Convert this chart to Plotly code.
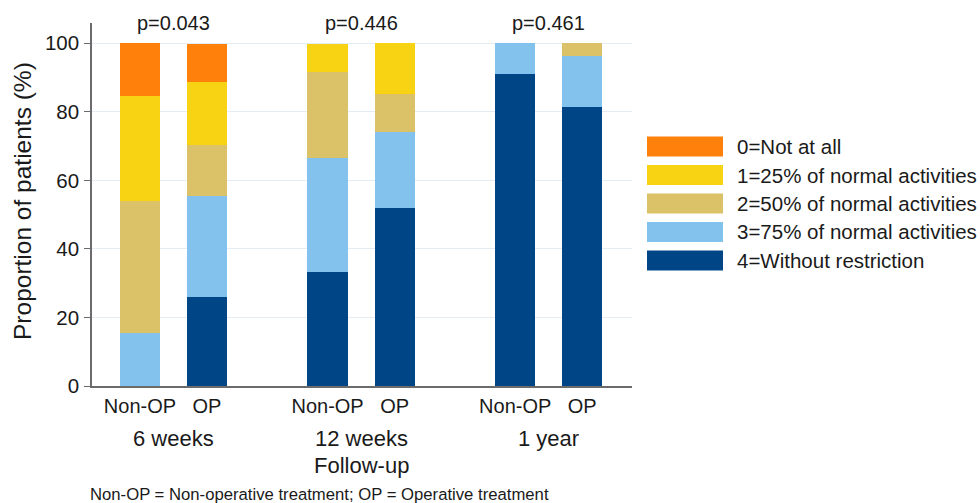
import plotly.graph_objects as go

# Follow-up time points and treatment arms
groups = ["6 weeks", "12 weeks", "1 year"]
arms = ["Non-OP", "OP"]
p_values = ["p=0.043", "p=0.446", "p=0.461"]

# Activity-level categories (stacked bottom to top) and their colours
categories = [
    "4=Without restriction",
    "3=75% of normal activities",
    "2=50% of normal activities",
    "1=25% of normal activities",
    "0=Not at all",
]
colors = ["#004586", "#84C2EE", "#DBC167", "#F8D313", "#FF800A"]

# Percent of patients per bar: 6wk Non-OP, 6wk OP, 12wk Non-OP, 12wk OP, 1yr Non-OP, 1yr OP
pct_4 = [0.0, 25.9, 33.3, 51.9, 90.9, 81.5]
pct_3 = [15.4, 29.6, 33.3, 22.2, 9.1, 14.8]
pct_2 = [38.5, 14.8, 25.0, 11.1, 0.0, 3.7]
pct_1 = [30.8, 18.5, 8.3, 14.8, 0.0, 0.0]
pct_0 = [15.4, 11.1, 0.0, 0.0, 0.0, 0.0]
series = [pct_4, pct_3, pct_2, pct_1, pct_0]

y_ticks = [0, 20, 40, 60, 80, 100]

FONT = "Arial, Liberation Sans, sans-serif"
TXT = "#1a1a1a"

# Bar positions: two arms per group, groups spaced apart
GROUP_STEP = 2.8
x_pos = []
x_text = []
for g in range(len(groups)):
    for a, arm in enumerate(arms):
        x_pos.append(g * GROUP_STEP + a)
        x_text.append(arm)
group_centers = [g * GROUP_STEP + 0.5 for g in range(len(groups))]

W, H = 980, 503
L, R, T, B = 92, 348, 23, 117
plot_h = H - T - B


def py(pix):
    """Convert a pixel row to paper y."""
    return (H - B - pix) / plot_h


def px(pix):
    """Convert a pixel column to paper x."""
    return (pix - L) / (W - L - R)


fig = go.Figure()
for name, vals, col in zip(categories, series, colors):
    fig.add_trace(go.Bar(
        x=x_pos, y=vals, name=name, width=0.6,
        marker=dict(color=col, line=dict(width=0)),
        showlegend=False,
    ))

annotations = []
for xc, p in zip(group_centers, p_values):
    annotations.append(dict(x=xc, xref="x", y=1, yref="paper", yanchor="middle",
                            text=p, showarrow=False, font=dict(size=20, color=TXT)))
for xc, g in zip(group_centers, groups):
    annotations.append(dict(x=xc, xref="x", y=py(438), yref="paper", yanchor="middle",
                            text=g, showarrow=False, font=dict(size=22, color=TXT)))
annotations.append(dict(x=group_centers[1], xref="x", y=py(465), yref="paper",
                        yanchor="middle", text="Follow-up", showarrow=False,
                        font=dict(size=22, color=TXT)))
annotations.append(dict(x=px(88), xref="paper", y=py(494.5), yref="paper",
                        xanchor="left", yanchor="middle",
                        text="Non-OP = Non-operative treatment; OP = Operative treatment",
                        showarrow=False, font=dict(size=16.7, color=TXT)))
annotations.append(dict(x=px(22.5), xref="paper", y=py(201.5), yref="paper",
                        xanchor="center", yanchor="middle", textangle=-90,
                        text="Proportion of patients (%)", showarrow=False,
                        font=dict(size=24.5, color=TXT)))

# Legend drawn as wide colour boxes with labels, top entry = category 0
shapes = []
row_top = 136.5
row_step = 28.5
for i, (name, col) in enumerate(zip(categories[::-1], colors[::-1])):
    top = row_top + i * row_step
    shapes.append(dict(type="rect", xref="paper", yref="paper",
                       x0=px(647), x1=px(723), y0=py(top + 20), y1=py(top),
                       fillcolor=col, line=dict(width=0)))
    annotations.append(dict(x=px(735), xref="paper", y=py(top + 10), yref="paper",
                            xanchor="left", yanchor="middle", text=name,
                            showarrow=False, font=dict(size=20.5, color=TXT)))

fig.update_layout(
    width=W, height=H,
    margin=dict(l=L, r=R, t=T, b=B, pad=0),
    barmode="stack",
    plot_bgcolor="white", paper_bgcolor="white",
    font=dict(family=FONT, color=TXT),
    annotations=annotations,
    shapes=shapes,
    xaxis=dict(
        range=[-0.716, 7.343],
        tickvals=x_pos, ticktext=x_text,
        tickfont=dict(size=20, color=TXT),
        showgrid=False, zeroline=False,
        showline=True, linecolor="#6b6b6b", linewidth=1.5,
        ticks="", ticklabelstandoff=1,
    ),
    yaxis=dict(
        range=[0, 105.9],
        tickvals=y_ticks,
        tickfont=dict(size=20.5, color=TXT),
        showgrid=True, gridcolor="#E4EDF5", gridwidth=1,
        zeroline=False,
        showline=True, linecolor="#6b6b6b", linewidth=1.5,
        ticks="outside", ticklen=6, tickcolor="#6b6b6b", tickwidth=1.2,
        ticklabelstandoff=1,
    ),
)

fig.write_html("out.html")
